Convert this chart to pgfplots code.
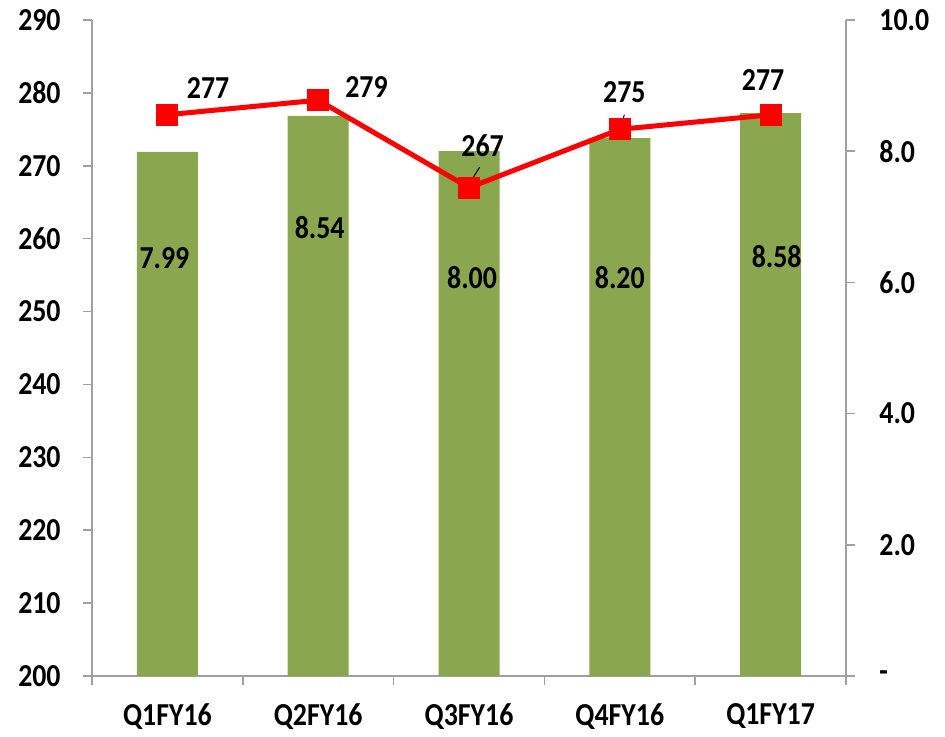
\documentclass[border=0pt]{standalone}
\usepackage{fontspec}
\setmainfont{Carlito}[FakeStretch=0.87]
\usepackage{pgfplots}
\pgfplotsset{compat=1.18}
\definecolor{barGreen}{RGB}{138,166,78}
\definecolor{axGray}{RGB}{160,160,160}
\newcommand{\lbl}{\fontsize{16}{19}\selectfont\bfseries}
\begin{document}
\lbl
\begin{tikzpicture}
\pgfplotsset{
  every axis/.append style={
    scale only axis, width=377pt, height=328pt,
    xmin=-0.5, xmax=4.5,
    axis line style={draw=axGray, line width=0.75pt},
    tick style={draw=axGray, line width=0.75pt},
    tick align=outside,
    major tick length=4.5pt,
    /pgf/number format/assume math mode=true,
    tick label style={font=\lbl, inner sep=0pt},
    every node/.append style={font=\lbl},
  }
}
% bars on right axis
\begin{axis}[
  axis y line*=right, axis x line*=bottom,
  ymin=0, ymax=10,
  ytick={0,2,4,6,8,10},
  yticklabels={-,2.0,4.0,6.0,8.0,10.0},
  yticklabel style={anchor=west, xshift=12pt},
  xtick={0,1,2,3,4},
  xticklabels={Q1FY16,Q2FY16,Q3FY16,Q4FY16,Q1FY17},
  major x tick style={draw=none},
  minor xtick={-0.5,0.5,1.5,2.5,3.5,4.5},
  minor tick length=4.5pt,
  xticklabel style={anchor=north, yshift=-9pt},
  clip=false,
]
\addplot[ybar, bar width=30.5pt, fill=barGreen, draw=none] coordinates {
  (0,7.99) (1,8.54) (2,8.00) (3,8.20) (4,8.58)
};
\node at (axis cs:-0.02,6.37) {7.99};
\node at (axis cs:1.01,6.83) {8.54};
\node at (axis cs:2.02,6.07) {8.00};
\node at (axis cs:3.0,6.07) {8.20};
\node at (axis cs:4.04,6.39) {8.58};
% page extent
\path (rel axis cs:0,0) ++(-46pt,-30pt);
\path (rel axis cs:1,1) ++(49.5pt,10pt);
\end{axis}
% line on left axis
\begin{axis}[
  axis y line*=left, axis x line=none,
  ymin=200, ymax=290,
  ytick={200,210,...,290},
  yticklabel style={anchor=east, xshift=-11pt},
  clip=false,
]
\addplot[red, line width=2.5pt, mark=square*, mark size=5.25pt,
  mark options={fill=red, draw=red, line width=0pt}] coordinates {
  (0,277) (1,279) (2,267) (3,275) (4,277)
};
\node at (axis cs:0.27,280.7) {277};
\node at (axis cs:1.32,280.8) {279};
\node at (axis cs:2.09,272.8) {267};
\node at (axis cs:3.03,280.1) {275};
\node at (axis cs:3.95,281.8) {277};
\draw[black, line width=0.5pt] (axis cs:1.99,267.1) -- (axis cs:2.07,269.8);
\draw[black, line width=0.5pt] (axis cs:3.0,274.9) -- (axis cs:3.03,277.0);
\end{axis}
\end{tikzpicture}
\end{document}
